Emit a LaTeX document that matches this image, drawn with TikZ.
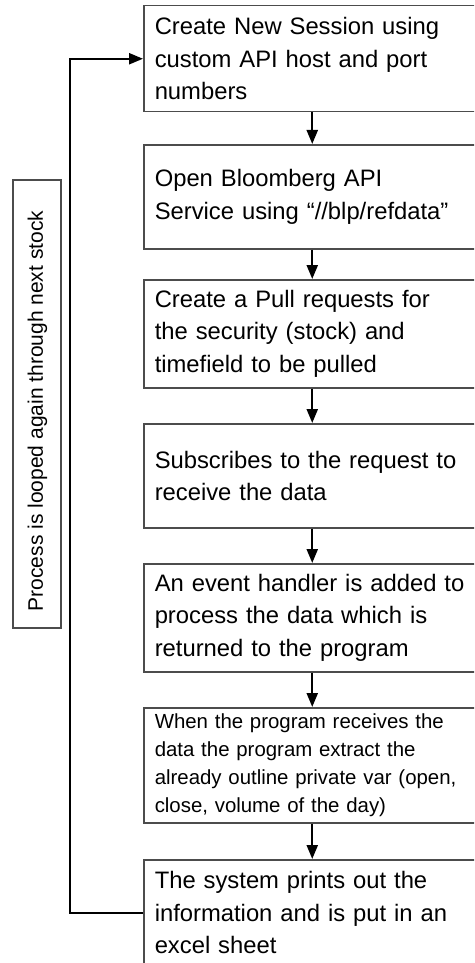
\documentclass[tikz,border=0pt]{standalone}
\usepackage{fontspec}
\setmainfont{Liberation Sans}
\usetikzlibrary{arrows.meta}
\definecolor{boxgray}{gray}{0.3}
\begin{document}
\begin{tikzpicture}[x=1pt,y=-1pt,
  stepbox/.style={draw=boxgray, line width=1.5pt, anchor=north west, minimum width=337pt,
    text width=315pt, inner xsep=11pt, inner ysep=0pt, align=left,
    font=\fontsize{23.8}{32.5}\selectfont},
  smallstep/.style={stepbox, font=\fontsize{20.4}{27.7}\selectfont},
  conn/.style={line width=2.3pt, -{Triangle[length=14pt,width=11pt]}}]
\useasboundingbox (0,0) rectangle (474,963);
\clip (0,0) rectangle (474,963);
\node[stepbox, minimum height=106pt] (b1) at (143,5) {Create New Session using\\custom API host and port\\numbers};
\node[stepbox, minimum height=104pt] (b2) at (143,144) {Open Bloomberg API\\Service using “//blp/refdata”};
\node[stepbox, minimum height=108pt] (b3) at (143,279) {Create a Pull requests for\\the security (stock) and\\timefield to be pulled};
\node[stepbox, minimum height=104pt] (b4) at (143,423) {Subscribes to the request to\\receive the data};
\node[stepbox, minimum height=108pt] (b5) at (143,563) {An event handler is added to\\process the data which is\\returned to the program};
\node[smallstep, minimum height=115pt] (b6) at (143,707) {When the program receives the\\data the program extract the\\already outline private var (open,\\close, volume of the day)};
\node[stepbox, minimum height=106pt] (b7) at (143,859) {The system prints out the\\information and is put in an\\excel sheet};
\draw[conn] (b1) -- (b2);
\draw[conn] (b2) -- (b3);
\draw[conn] (b3) -- (b4);
\draw[conn] (b4) -- (b5);
\draw[conn] (b5) -- (b6);
\draw[conn] (b6) -- (b7);
\coordinate (lp) at (70,500);
\draw[conn] (b7.west) -| (lp) |- (b1.west);
\node[draw=boxgray, line width=1.4pt, minimum width=48pt, minimum height=448pt, inner sep=0pt] (side) at (37,404) {};
\node[rotate=90, font=\fontsize{21}{24}\selectfont, inner sep=0pt] (sidetext) at (37.5,411) {Process is looped again through next stock};
\end{tikzpicture}
\end{document}
